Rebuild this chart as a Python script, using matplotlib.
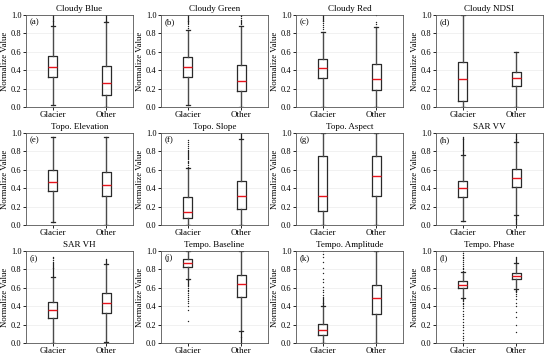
import matplotlib
matplotlib.use("Agg")
import matplotlib.pyplot as plt

plt.rcParams['font.family'] = ['Liberation Serif', 'DejaVu Serif']

titles = ["Cloudy Blue", "Cloudy Green", "Cloudy Red", "Cloudy NDSI",
          "Topo. Elevation", "Topo. Slope", "Topo. Aspect", "SAR VV",
          "SAR VH", "Tempo. Baseline", "Tempo. Amplitude", "Tempo. Phase"]
panel_tags = ["(a)", "(b)", "(c)", "(d)", "(e)", "(f)",
              "(g)", "(h)", "(i)", "(j)", "(k)", "(l)"]
classes = ["Glacier", "Other"]

# per panel: (q1, median, q3, whisker low, whisker high) for Glacier, Other
glacier_stats = [
    (0.33, 0.43, 0.55, 0.02, 0.88),
    (0.33, 0.43, 0.54, 0.02, 0.84),
    (0.31, 0.42, 0.52, 0.00, 0.82),
    (0.07, 0.30, 0.49, 0.00, 1.00),
    (0.37, 0.47, 0.60, 0.03, 0.96),
    (0.08, 0.14, 0.30, 0.00, 0.62),
    (0.15, 0.31, 0.75, 0.00, 1.00),
    (0.30, 0.40, 0.48, 0.04, 0.76),
    (0.27, 0.36, 0.45, 0.00, 0.72),
    (0.83, 0.87, 0.91, 0.70, 1.00),
    (0.09, 0.14, 0.21, 0.00, 0.40),
    (0.60, 0.63, 0.67, 0.49, 0.77),
]
other_stats = [
    (0.13, 0.26, 0.45, 0.00, 0.92),
    (0.17, 0.28, 0.46, 0.00, 0.88),
    (0.19, 0.30, 0.47, 0.00, 0.87),
    (0.23, 0.32, 0.38, 0.00, 0.60),
    (0.31, 0.44, 0.58, 0.00, 0.96),
    (0.17, 0.32, 0.48, 0.00, 0.93),
    (0.32, 0.53, 0.75, 0.00, 1.00),
    (0.41, 0.51, 0.61, 0.11, 0.90),
    (0.33, 0.43, 0.54, 0.01, 0.86),
    (0.50, 0.64, 0.74, 0.13, 1.00),
    (0.31, 0.49, 0.63, 0.00, 1.00),
    (0.70, 0.73, 0.76, 0.59, 0.87),
]

# outliers
glacier_fliers = [
    [0.89, 0.90, 0.91, 0.92, 0.93, 0.94, 0.95, 0.96, 0.97, 0.98, 0.99, 1.00],
    [0.86, 0.88, 0.90, 0.91, 0.92, 0.93, 0.94, 0.95, 0.96, 0.97, 0.98, 0.99, 1.00],
    [0.85, 0.87, 0.89, 0.91, 0.93, 0.94, 0.95, 0.96, 0.97, 0.98, 0.99, 1.00],
    [],
    [],
    [0.63, 0.65, 0.67, 0.69, 0.70, 0.72, 0.73, 0.74, 0.75, 0.76, 0.77, 0.78,
     0.79, 0.80, 0.82, 0.84, 0.86, 0.88, 0.90, 0.92],
    [],
    [0.77, 0.78, 0.79, 0.80, 0.81, 0.82, 0.83, 0.84, 0.85, 0.86, 0.87, 0.88,
     0.89, 0.90, 0.91, 0.92, 0.93, 0.94, 0.95, 0.96],
    [0.73, 0.74, 0.75, 0.76, 0.77, 0.78, 0.79, 0.80, 0.81, 0.82, 0.83, 0.84,
     0.85, 0.86, 0.87, 0.88, 0.90, 0.92, 0.93],
    [0.24, 0.36, 0.40, 0.44, 0.46, 0.48, 0.50, 0.52, 0.54, 0.56, 0.58, 0.60,
     0.62, 0.63, 0.64, 0.65, 0.66, 0.67, 0.68, 0.69],
    [0.41, 0.42, 0.43, 0.44, 0.45, 0.46, 0.47, 0.48, 0.49, 0.50, 0.52, 0.55,
     0.58, 0.61, 0.66, 0.70, 0.76, 0.82, 0.88, 0.93, 0.97, 1.00],
    [0.00, 0.03, 0.05, 0.08, 0.11, 0.14, 0.17, 0.20, 0.23, 0.26, 0.29, 0.32,
     0.35, 0.38, 0.40, 0.42, 0.44, 0.46, 0.47, 0.48,
     0.78, 0.80, 0.82, 0.84, 0.86, 0.88, 0.90, 0.92, 0.94, 0.96, 0.98, 1.00],
]
other_fliers = [
    [0.93, 0.94, 0.95, 0.96, 0.97, 0.98, 0.99, 1.00],
    [0.90, 0.91, 0.92, 0.93, 0.95, 0.97, 0.99, 1.00],
    [0.90, 0.92, 1.00],
    [],
    [],
    [0.94, 0.95, 0.96, 0.97, 0.98, 0.99, 1.00],
    [],
    [0.00, 0.01, 0.02, 0.03, 0.04, 0.05, 0.06, 0.07, 0.08, 0.09, 0.10,
     0.91, 0.92, 0.93, 0.94, 0.95, 0.96, 0.97, 0.98, 0.99, 1.00],
    [0.87, 0.88, 0.89, 0.90, 0.91, 0.00],
    [0.00, 0.01, 0.02, 0.03, 0.04, 0.05, 0.06, 0.07, 0.08, 0.09, 0.10, 0.11, 0.12],
    [],
    [0.12, 0.20, 0.28, 0.34, 0.40, 0.44, 0.48, 0.51, 0.53, 0.55, 0.56, 0.57, 0.58,
     0.88, 0.89, 0.90, 0.91, 0.92, 0.93],
]


def make_stats(s, fliers, label):
    q1, med, q3, lo, hi = s
    return dict(q1=q1, med=med, q3=q3, whislo=lo, whishi=hi,
                fliers=fliers, label=label)


fig = plt.figure(figsize=(5.5, 3.56), dpi=100)

lefts = [26, 161, 296, 436]
tops = [15, 133, 251]
ax_w, ax_h = 107, 92
W, H = 550, 356

for i in range(12):
    r, c = divmod(i, 4)
    ax = fig.add_axes([lefts[c] / W, 1 - (tops[r] + ax_h) / H, ax_w / W, ax_h / H])
    stats = [make_stats(glacier_stats[i], glacier_fliers[i], classes[0]),
             make_stats(other_stats[i], other_fliers[i], classes[1])]
    ax.bxp(stats, positions=[1, 2], widths=0.16, capwidths=0.08,
           boxprops=dict(color="#2a2a2a", linewidth=0.9),
           whiskerprops=dict(color="#4a4a4a", linewidth=1.0),
           capprops=dict(color="#2a2a2a", linewidth=0.9),
           medianprops=dict(color="#e8141c", linewidth=1.0),
           flierprops=dict(marker=".", markersize=2.0, markerfacecolor="#222222",
                           markeredgecolor="none", linestyle="none"))
    ax.set_xlim(0.5, 2.5)
    ax.set_ylim(0, 1)
    ax.set_yticks([0, 0.2, 0.4, 0.6, 0.8, 1.0])
    ax.set_yticklabels(["0.0", "0.2", "0.4", "0.6", "0.8", "1.0"])
    ax.tick_params(labelsize=6, length=2, width=0.6, pad=1.2)
    ax.tick_params(axis="x", labelsize=6.5)
    ax.grid(axis="y", color="#ececec", linewidth=0.5)
    ax.set_axisbelow(True)
    for sp in ax.spines.values():
        sp.set_linewidth(0.6)
        sp.set_color("#555555")
    ax.set_title(titles[i], fontsize=6.5, pad=3)
    ax.set_ylabel("Normalize Value", fontsize=6.3, labelpad=1.2)
    ax.text(0.03, 0.97, panel_tags[i], transform=ax.transAxes,
            fontsize=6.3, va="top", ha="left")

fig.savefig("out.png", dpi=100)
